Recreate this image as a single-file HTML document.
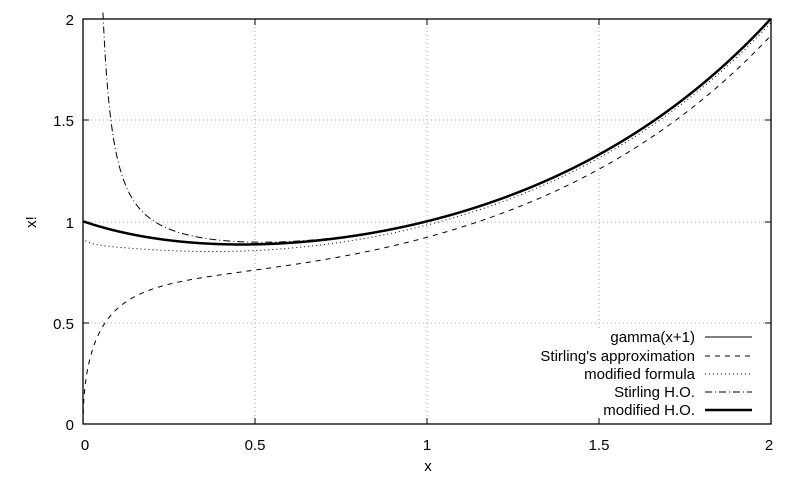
<!DOCTYPE html>
<html><head><meta charset="utf-8"><style>body{margin:0;background:#fff}svg{display:block}text{font-family:"Liberation Sans",sans-serif;font-size:15px;fill:#000}</style></head>
<body>
<svg id="s" width="800" height="480" viewBox="0 0 800 480" xmlns="http://www.w3.org/2000/svg">
<g stroke="#aaa" stroke-width="1" stroke-dasharray="1,3">
<line x1="255" y1="19" x2="255" y2="424"/><line x1="427" y1="19" x2="427" y2="424"/><line x1="599" y1="19" x2="599" y2="330"/>
<line x1="83" y1="323" x2="771" y2="323"/><line x1="83" y1="222" x2="771" y2="222"/><line x1="83" y1="120" x2="771" y2="120"/>
</g>
<g stroke="#000" stroke-width="1">
<line x1="255" y1="424" x2="255" y2="418"/><line x1="427" y1="424" x2="427" y2="418"/><line x1="599" y1="424" x2="599" y2="418"/>
<line x1="255" y1="19" x2="255" y2="25"/><line x1="427" y1="19" x2="427" y2="25"/><line x1="599" y1="19" x2="599" y2="25"/>
<line x1="83" y1="323" x2="89" y2="323"/><line x1="83" y1="222" x2="89" y2="222"/><line x1="83" y1="120" x2="89" y2="120"/>
<line x1="771" y1="323" x2="765" y2="323"/><line x1="771" y1="222" x2="765" y2="222"/><line x1="771" y1="120" x2="765" y2="120"/>
</g>
<g id="curves" fill="none" stroke="#000"></g>
<rect x="83" y="19" width="688" height="405" fill="none" stroke="#000" stroke-width="1.3"/>
<g text-anchor="end">
<text x="74" y="430">0</text><text x="74" y="329">0.5</text><text x="74" y="228">1</text><text x="74" y="126">1.5</text><text x="74" y="25">2</text>
</g>
<g text-anchor="middle">
<text x="85" y="450">0</text><text x="255" y="450">0.5</text><text x="427" y="450">1</text><text x="599" y="450">1.5</text><text x="769" y="450">2</text>
<text x="428" y="471">x</text>
<text x="0" y="0" transform="translate(36,222) rotate(-90)">x!</text>
</g>
<g text-anchor="end">
<text x="695" y="342">gamma(x+1)</text>
<text x="695" y="361">Stirling's approximation</text>
<text x="695" y="379">modified formula</text>
<text x="695" y="397">Stirling H.O.</text>
<text x="695" y="415">modified H.O.</text>
</g>
<g stroke="#000" fill="none">
<line x1="705" y1="337" x2="752" y2="337"/>
<line x1="705" y1="356" x2="752" y2="356" stroke-dasharray="5,5"/>
<line x1="705" y1="374" x2="752" y2="374" stroke-dasharray="1,3"/>
<line x1="705" y1="392" x2="752" y2="392" stroke-dasharray="7,3,1,3"/>
<line x1="705" y1="410" x2="752" y2="410" stroke-width="2.5"/>
</g>
</svg>
<script>
function gam(z){var g=7,c=[0.99999999999980993,676.5203681218851,-1259.1392167224028,771.32342877765313,-176.61563092484639,12.507343278686905,-0.13857109526572012,9.9843695780195716e-6,1.5056327351493116e-7];
z-=1;var x=c[0];for(var i=1;i<g+2;i++)x+=c[i]/(z+i);var t=z+g+0.5;return Math.sqrt(2*Math.PI)*Math.pow(t,z+0.5)*Math.exp(-t)*x;}
function st(x){return x<=0?0:Math.sqrt(2*Math.PI*x)*Math.pow(x/Math.E,x);}
var fs=[
[function(x){return gam(x+1)},"",1],
[st,"5,5",1],
[function(x){return Math.sqrt(2*Math.PI*(x+0.135))*Math.pow(x>0?x/Math.E:1,x)*(x>0?1:1)},"1,3",1],
[function(x){return x<=0?10:st(x)*Math.exp(1/(12*x))},"7,3,1,3",1],
[function(x){return gam(x+1)*1.001},"",2.5]];
var g=document.getElementById("curves");
fs.forEach(function(f){var d="";for(var i=0;i<=2000;i++){var x=i/1000,y=f[0](x);if(!isFinite(y)||y>2.05)continue;var px=83+x*344,py=424-y*202.5;d+=(d?"L":"M")+px.toFixed(2)+","+py.toFixed(2);}
var p=document.createElementNS("http://www.w3.org/2000/svg","path");p.setAttribute("d",d);p.setAttribute("stroke-width",f[2]);if(f[1])p.setAttribute("stroke-dasharray",f[1]);g.appendChild(p);});
</script>
</body></html>
